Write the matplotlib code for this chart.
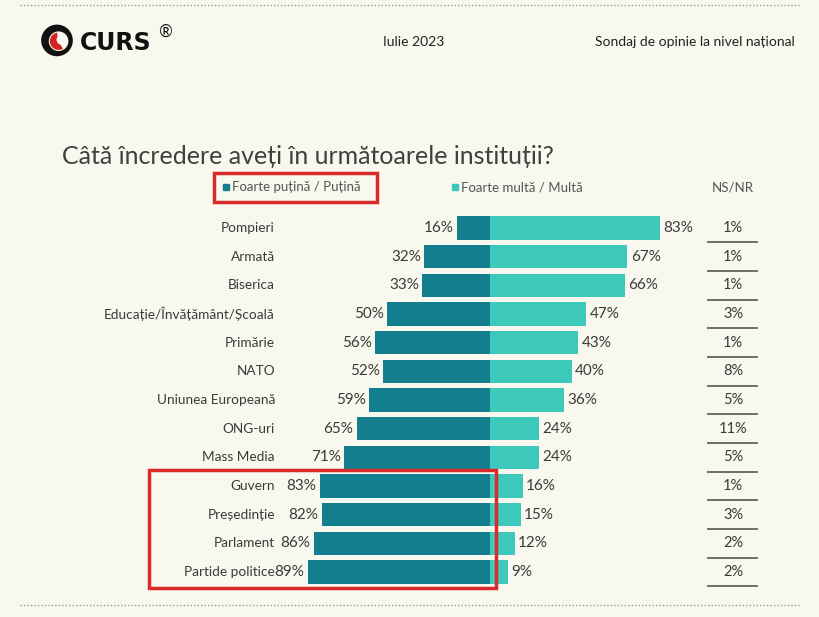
import matplotlib
matplotlib.use("Agg")
import matplotlib.pyplot as plt
from matplotlib.patches import Rectangle, Circle, Wedge

plt.rcParams['font.family'] = ['Lato', 'DejaVu Sans']

categories = ["Pompieri", "Armată", "Biserica", "Educație/Învățământ/Școală", "Primărie",
              "NATO", "Uniunea Europeană", "ONG-uri", "Mass Media", "Guvern",
              "Președinție", "Parlament", "Partide politice"]
low_trust = [16, 32, 33, 50, 56, 52, 59, 65, 71, 83, 82, 86, 89]
high_trust = [83, 67, 66, 47, 43, 40, 36, 24, 24, 16, 15, 12, 9]
ns_nr = [1, 1, 1, 3, 1, 8, 5, 11, 5, 1, 3, 2, 2]

DARK = "#137f8e"
LIGHT = "#3dc8bc"
BG = "#f9f8ee"
TXT = "#3a3a3a"
RED = "#d92b2b"

W, H = 820, 617
fig = plt.figure(figsize=(W / 100, H / 100), dpi=100, facecolor=BG)
ax = fig.add_axes([0, 0, 1, 1])
ax.set_facecolor(BG)

X0, SX = 490.0, 2.05      # pixel of zero, pixels per percent
Y0, SY = 228.0, 28.67     # pixel of first row, pixels per row
ax.set_xlim(-X0 / SX, (W - X0) / SX)
ax.set_ylim((H - Y0) / SY, -Y0 / SY)
ax.axis("off")

def px(x):
    return (x - X0) / SX

def py(y):
    return (y - Y0) / SY

rows = list(range(len(categories)))
ax.barh(rows, [-v for v in low_trust], height=0.81, color=DARK, zorder=2)
ax.barh(rows, high_trust, height=0.81, color=LIGHT, zorder=2)

for i, (c, lo, hi, n) in enumerate(zip(categories, low_trust, high_trust, ns_nr)):
    ax.text(px(275), i, c, ha="right", va="center", fontsize=9.8, color=TXT)
    ax.text(-lo - 1.6, i, f"{lo}%", ha="right", va="center", fontsize=11, color=TXT)
    ax.text(hi + 1.6, i, f"{hi}%", ha="left", va="center", fontsize=11, color=TXT)
    ax.text(px(733), i, f"{n}%", ha="center", va="center", fontsize=10.5, color=TXT)
    ax.plot([px(708), px(757)], [i + 0.5, i + 0.5], color="#6e6e68", lw=1.4)

# red highlight box around bottom rows
ax.add_patch(Rectangle((px(149), py(470)), (496 - 149) / SX, (588 - 470) / SY,
                       fill=False, ec=RED, lw=2.5, zorder=5))
# legend
ax.add_patch(Rectangle((px(214), py(173)), (377 - 214) / SX, (202 - 173) / SY,
                       fill=False, ec=RED, lw=2.5, zorder=5))
ax.add_patch(Rectangle((px(223), py(184)), 6 / SX, 6 / SY, color=DARK))
ax.text(px(232), py(187), "Foarte puțină / Puțină", ha="left", va="center", fontsize=9.5, color="#555555")
ax.add_patch(Rectangle((px(452), py(184)), 6 / SX, 6 / SY, color=LIGHT))
ax.text(px(461), py(187), "Foarte multă / Multă", ha="left", va="center", fontsize=9.5, color="#555555")
ax.text(px(733), py(187), "NS/NR", ha="center", va="center", fontsize=9.5, color="#555555")

# title
ax.text(px(62), py(157), "Câtă încredere aveți în următoarele instituții?", ha="left",
        va="center", fontsize=18, color="#404040", fontweight="normal")

# header
ax.text(px(414), py(42), "Iulie 2023", ha="center", va="center", fontsize=10, color="#222222")
ax.text(px(795), py(42), "Sondaj de opinie la nivel național", ha="right", va="center",
        fontsize=10, color="#222222")
ax.text(px(80), py(43), "CURS", ha="left", va="center", fontsize=17, fontweight="black",
        color="#111111", family="DejaVu Sans")
ax.text(px(158), py(32), "®", ha="left", va="center", fontsize=12, color="#111111")
# logo mark
logo_ax = fig.add_axes([38 / W, 1 - 64 / H, 38 / W, 44 / H])
logo_ax.set_xlim(-1.2, 1.2)
logo_ax.set_ylim(-1.4, 1.2)
logo_ax.set_aspect("equal")
logo_ax.axis("off")
logo_ax.add_patch(Circle((0, 0), 1.0, fc="#111111"))
logo_ax.add_patch(Circle((0.1, -0.05), 0.62, fc=BG))
logo_ax.add_patch(Wedge((0.1, -0.05), 0.55, 100, 300, fc="#d42323"))
logo_ax.add_patch(Circle((0.3, 0.05), 0.33, fc=BG))

# dotted separators
ax.plot([px(20), px(800)], [py(5), py(5)], color="#9a9a90", lw=1, ls=(0, (1, 1.5)))
ax.plot([px(20), px(800)], [py(605), py(605)], color="#9a9a90", lw=1, ls=(0, (1, 1.5)))

fig.savefig("out.png", dpi=100, facecolor=BG)
